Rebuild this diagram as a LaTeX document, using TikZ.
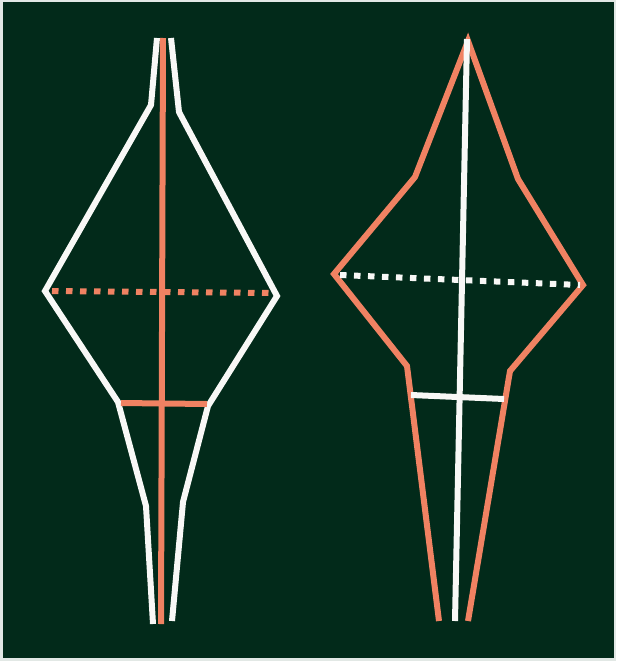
\documentclass[tikz,border=0pt]{standalone}
\definecolor{bg}{RGB}{2,42,26}
\definecolor{edge}{RGB}{226,232,229}
\definecolor{salmon}{RGB}{240,130,98}
\definecolor{chalk}{RGB}{248,248,246}
\begin{document}
\begin{tikzpicture}[x=1pt,y=-1pt,
  stroke/.style={line width=6pt,line join=miter,miter limit=3},
  dotline/.style={line width=6pt,dash pattern=on 6.5pt off 7.5pt}]
\useasboundingbox (0,0) rectangle (616,661);
\fill[edge] (0,0) rectangle (616,661);
\fill[bg] (3,2) rectangle (614,658);
% left figure
\coordinate (La1) at (157,38); \coordinate (La2) at (151,105); \coordinate (La3) at (45,291);
\coordinate (La4) at (118,402); \coordinate (La5) at (146,506); \coordinate (La6) at (153,624);
\coordinate (Lb1) at (171,38); \coordinate (Lb2) at (179,112); \coordinate (Lb3) at (277,296);
\coordinate (Lb4) at (208,406); \coordinate (Lb5) at (183,502); \coordinate (Lb6) at (172,621);
\coordinate (Lc1) at (163,38); \coordinate (Lc2) at (161,624);
\draw[stroke,chalk] (La1) -- (La2) -- (La3) -- (La4) -- (La5) -- (La6);
\draw[stroke,chalk] (Lb1) -- (Lb2) -- (Lb3) -- (Lb4) -- (Lb5) -- (Lb6);
\draw[stroke,salmon] (Lc1) -- (Lc2);
\coordinate (Ld1) at (52,291); \coordinate (Ld2) at (274,293);
\draw[dotline,salmon] (Ld1) -- (Ld2);
\coordinate (Le1) at (121,403); \coordinate (Le2) at (207,404);
\draw[stroke,salmon] (Le1) -- (Le2);
% right figure
\coordinate (Ra0) at (468,41); \coordinate (Ra1) at (415,177); \coordinate (Ra2) at (334,274);
\coordinate (Ra3) at (407,366); \coordinate (Ra4) at (439,621);
\coordinate (Rb1) at (518,179); \coordinate (Rb2) at (583,285); \coordinate (Rb3) at (510,371);
\coordinate (Rb4) at (468,621);
\draw[stroke,salmon] (Ra4) -- (Ra3) -- (Ra2) -- (Ra1) -- (Ra0) -- (Rb1) -- (Rb2) -- (Rb3) -- (Rb4);
\coordinate (Rc1) at (467,39); \coordinate (Rc2) at (455,621);
\draw[stroke,chalk] (Rc1) -- (Rc2);
\coordinate (Rd1) at (340,275); \coordinate (Rd2) at (580,285);
\draw[dotline,chalk] (Rd1) -- (Rd2);
\coordinate (Re1) at (411,395); \coordinate (Re2) at (504,399);
\draw[stroke,chalk] (Re1) -- (Re2);
\end{tikzpicture}
\end{document}
